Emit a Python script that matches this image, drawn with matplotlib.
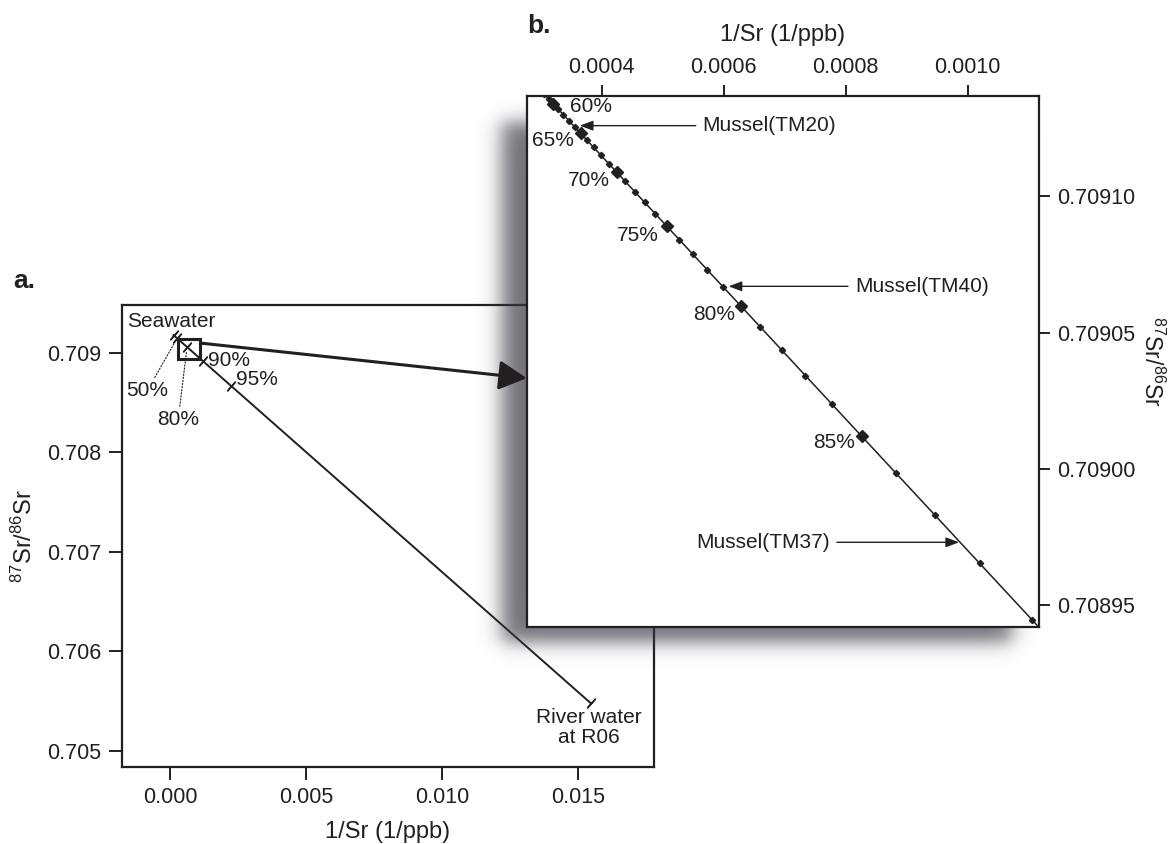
import numpy as np
import matplotlib
matplotlib.use("Agg")
import matplotlib.pyplot as plt
from matplotlib.patches import Rectangle, ConnectionPatch, ArrowStyle
from matplotlib.ticker import FormatStrFormatter

plt.rcParams["font.family"] = ["Liberation Sans", "DejaVu Sans"]
plt.rcParams["mathtext.default"] = "regular"
plt.rcParams["text.color"] = "#231f20"

# mixing end-members (1/Sr, 87Sr/86Sr)
seawater = (0.00013, 0.70918)
river = (0.01548, 0.705475)

# panel a: labelled freshwater fractions
a_pct = ["50%", "80%", "90%", "95%"]
a_x = [0.000258, 0.000628, 0.001208, 0.002240]
a_y = [0.709149, 0.709060, 0.708920, 0.708671]

# panel b: 1 % steps of freshwater fraction
b_pct = list(range(58, 90))
b_x = [0.0003057, 0.0003130, 0.0003206, 0.0003287, 0.0003371, 0.0003461,
       0.0003555, 0.0003654, 0.0003759, 0.0003870, 0.0003987, 0.0004113,
       0.0004246, 0.0004388, 0.0004540, 0.0004703, 0.0004879, 0.0005067,
       0.0005271, 0.0005492, 0.0005733, 0.0005995, 0.0006283, 0.0006599,
       0.0006949, 0.0007339, 0.0007774, 0.0008265, 0.0008821, 0.0009459,
       0.0010196, 0.0011056]
b_y = [0.7091376, 0.7091358, 0.7091340, 0.7091320, 0.7091300, 0.7091278,
       0.7091256, 0.7091232, 0.7091207, 0.7091180, 0.7091151, 0.7091121,
       0.7091089, 0.7091055, 0.7091018, 0.7090978, 0.7090936, 0.7090891,
       0.7090841, 0.7090788, 0.7090730, 0.7090667, 0.7090597, 0.7090521,
       0.7090436, 0.7090342, 0.7090237, 0.7090119, 0.7089984, 0.7089830,
       0.7089653, 0.7089445]

# mussel samples (name, 1/Sr, ratio)
mussels = ["Mussel(TM20)", "Mussel(TM40)", "Mussel(TM37)"]
mussel_x = [0.000364, 0.000608, 0.000986]
mussel_y = [0.709126, 0.709067, 0.708973]

INK = "#231f20"
W, H = 1169, 844
fig = plt.figure(figsize=(W / 100, H / 100), dpi=100)


def frac(left, top, right, bottom):
    return [left / W, 1 - bottom / H, (right - left) / W, (bottom - top) / H]


ax_a = fig.add_axes(frac(121.7, 305, 654.3, 766.7), zorder=1)
ax_b = fig.add_axes(frac(526.7, 95.7, 1039, 626.7), zorder=3)

for ax in (ax_a, ax_b):
    for s in ax.spines.values():
        s.set_linewidth(1.6)
        s.set_color(INK)

# ---------------- panel a ----------------
ax_a.set_xlim(-0.001776, 0.017805)
ax_a.set_ylim(0.704839, 0.709483)
ax_a.set_xticks([0.0, 0.005, 0.010, 0.015])
ax_a.set_yticks([0.705, 0.706, 0.707, 0.708, 0.709])
ax_a.xaxis.set_major_formatter(FormatStrFormatter("%.3f"))
ax_a.yaxis.set_major_formatter(FormatStrFormatter("%.3f"))
ax_a.tick_params(direction="out", length=9.5, width=1.4, pad=5,
                 labelsize=15.5, color=INK, labelcolor=INK)

ax_a.plot([seawater[0], river[0]], [seawater[1], river[1]], color=INK, lw=1.4)

# perpendicular ticks along the mixing line
p0 = ax_a.transData.transform(seawater)
p1 = ax_a.transData.transform(river)
theta = np.degrees(np.arctan2(p1[1] - p0[1], p1[0] - p0[0]))
ax_a.plot([seawater[0]] + a_x + [river[0]], [seawater[1]] + a_y + [river[1]],
          ls="none", marker=(2, 2, theta), ms=9, mew=1.1, color=INK)

# box showing the extent of panel b
bx0, bx1 = 0.000277, 0.001117
by0, by1 = 0.708942, 0.709137
ax_a.add_patch(Rectangle((bx0, by0), bx1 - bx0, by1 - by0, fill=False,
                         lw=2.2, ec=INK, zorder=4))

ax_a.annotate("Seawater", seawater, xytext=(-2, 10), textcoords="offset points",
              ha="center", va="center", fontsize=15)
ax_a.annotate("River water\nat R06", river, xytext=(-1.5, -17.5),
              textcoords="offset points", ha="center", va="center",
              fontsize=15, linespacing=1.05)

a_offsets = [(-21.5, -38), (-6.5, -52.5), (19, 0.7), (19, 4.5)]
for lab, x, y, off in zip(a_pct, a_x, a_y, a_offsets):
    arrow = None
    if lab in ("50%", "80%"):
        arrow = dict(arrowstyle="-", ls=(0, (1.2, 1.6)), lw=0.8, color=INK,
                     shrinkA=1, shrinkB=3)
    ax_a.annotate(lab, (x, y), xytext=off, textcoords="offset points",
                  ha="center", va="center", fontsize=15, arrowprops=arrow)

# ---------------- shadow behind panel b ----------------
yy, xx = np.mgrid[0:H, 0:W] + 0.5


def ramp(v, lo, hi, w):
    return 0.5 * (np.tanh((v - lo) / w) - np.tanh((v - hi) / w))


shade = np.zeros((H, W, 4))
shade[..., 0] = 0.22
shade[..., 1] = 0.22
shade[..., 2] = 0.26
shade[..., 3] = 0.72 * ramp(xx, 502, 1012, 12) * ramp(yy, 122, 642, 11)
ax_sh = fig.add_axes([0, 0, 1, 1], zorder=2)
ax_sh.imshow(shade, extent=(0, W, H, 0), aspect="auto", interpolation="bilinear")
ax_sh.set_xlim(0, W)
ax_sh.set_ylim(H, 0)
ax_sh.set_axis_off()

# ---------------- panel b ----------------
ax_b.set_xlim(bx0, bx1)
ax_b.set_ylim(by0, by1)
ax_b.xaxis.tick_top()
ax_b.yaxis.tick_right()
ax_b.set_xticks([0.0004, 0.0006, 0.0008, 0.0010])
ax_b.set_yticks([0.70895, 0.70900, 0.70905, 0.70910])
ax_b.xaxis.set_major_formatter(FormatStrFormatter("%.4f"))
ax_b.yaxis.set_major_formatter(FormatStrFormatter("%.5f"))
ax_b.tick_params(direction="out", length=8, width=1.4, pad=5,
                 labelsize=15.5, color=INK, labelcolor=INK)

ax_b.plot([seawater[0], river[0]], [seawater[1], river[1]], color=INK, lw=1.1)
ax_b.plot(b_x, b_y, ls="none", marker="D", ms=3.2, color=INK)
big = [i for i, p in enumerate(b_pct) if p % 5 == 0]
ax_b.plot([b_x[i] for i in big], [b_y[i] for i in big], ls="none",
          marker="D", ms=6.5, color=INK)

b_offsets = {60: (27, -2), 65: (-20, -5), 70: (-20, -6),
             75: (-21, -7), 80: (-19.5, -6), 85: (-20, -4.5)}
for i in big:
    p = b_pct[i]
    ax_b.annotate(f"{p}%", (b_x[i], b_y[i]), xytext=b_offsets[p],
                  textcoords="offset points", ha="center", va="center",
                  fontsize=15)

m_offsets = [(88.5, 0, "left"), (91, 0, "left"), (-93, 0, "right")]
for name, x, y, (dx, dy, ha) in zip(mussels, mussel_x, mussel_y, m_offsets):
    ax_b.annotate(name, (x, y), xytext=(dx, dy), textcoords="offset points",
                  ha=ha, va="center", fontsize=15,
                  arrowprops=dict(arrowstyle="-|>,head_length=0.8,head_width=0.3",
                                  lw=1.0, color=INK, shrinkA=3, shrinkB=0,
                                  mutation_scale=10))

# big arrow from the box in panel a to panel b
link = ConnectionPatch(xyA=(bx1, 0.709100), coordsA=ax_a.transData,
                       xyB=(0.0, 0.468), coordsB=ax_b.transAxes,
                       arrowstyle=ArrowStyle("-|>", head_length=17, head_width=9),
                       mutation_scale=1, lw=2.2, color=INK,
                       shrinkA=0, shrinkB=0, zorder=2.5)
fig.add_artist(link)

# axis titles and panel letters
ratio_label = "$^{87}$Sr/$^{86}$Sr"
fig.text(388 / W, 1 - 832 / H, "1/Sr (1/ppb)", fontsize=17, ha="center", va="center")
fig.text(783 / W, 1 - 35 / H, "1/Sr (1/ppb)", fontsize=17, ha="center", va="center")
fig.text(24 / W, 1 - 536 / H, ratio_label, fontsize=17, rotation=90,
         ha="center", va="center")
fig.text(1152 / W, 1 - 362 / H, ratio_label, fontsize=16.5, rotation=270,
         ha="center", va="center")
fig.text(13 / W, 1 - 288 / H, "a.", fontsize=19, fontweight="bold", va="baseline")
fig.text(527 / W, 1 - 33 / H, "b.", fontsize=19, fontweight="bold", va="baseline")

fig.savefig("out.png", dpi=100)
